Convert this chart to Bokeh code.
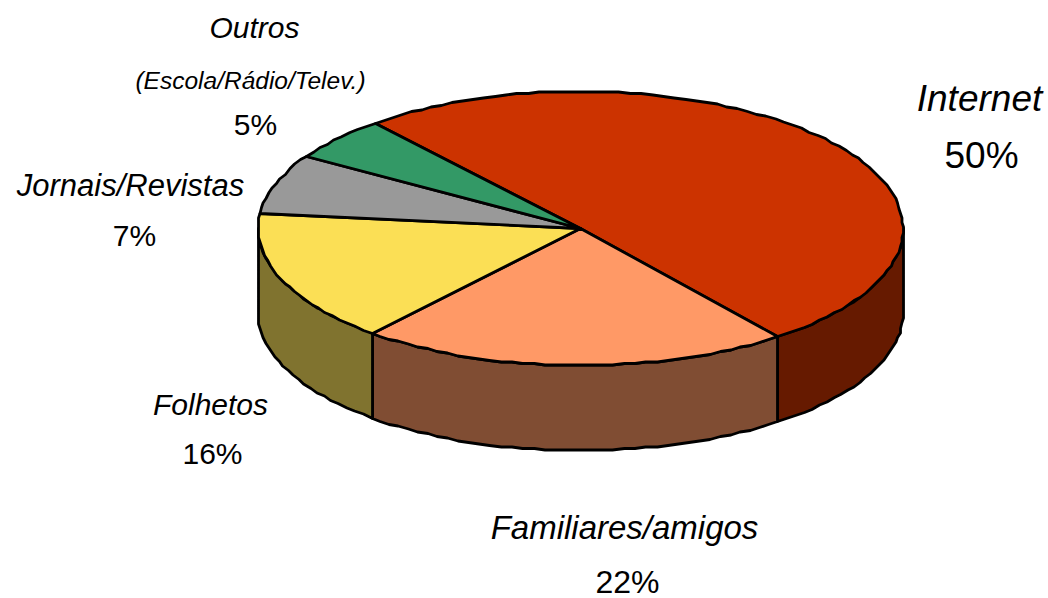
import numpy as np
from bokeh.plotting import figure
from bokeh.models import Range1d
from bokeh.core.properties import value
from bokeh.embed import file_html
from bokeh.resources import INLINE

# --- data ---
categories = ["Internet", "Familiares/amigos", "Folhetos", "Jornais/Revistas", "Outros"]
shares = [50.5, 21.7, 15.6, 7.1, 5.1]  # slice sizes as drawn in the picture
share_labels = ["50%", "22%", "16%", "7%", "5%"]
top_colors = ["#CC3300", "#FF9966", "#FBDF55", "#999999", "#339966"]
side_colors = ["#661A00", "#804D33", "#80732F", "#4D4D4D", "#1A4D33"]

# --- layout (page pixels) ---
CX, CY, RX, RY, DEPTH = 580.0, 228.0, 322.5, 137.0, 85.0
START = -129.6  # degrees, clockwise on screen
LW = 2.8
GRID = 1.5  # the reference's outline is slightly quantised
W, H = 1048, 598

p = figure(width=W, height=H, output_backend="svg", toolbar_location=None,
           x_range=Range1d(0, W), y_range=Range1d(H, 0), min_border=0,
           outline_line_color=None, background_fill_color="white")
p.axis.visible = False
p.grid.visible = False


def arc(a0, a1, dy=0.0):
    n = max(2, int(abs(a1 - a0) / 2.0) + 1)
    t = np.radians(np.linspace(a0, a1, n))
    x = np.round((CX + RX * np.cos(t)) / GRID) * GRID
    y = np.round((CY + RY * np.sin(t)) / GRID) * GRID + dy
    return x, y


edges = START + np.concatenate([[0], np.cumsum(shares)]) * 3.6
# side faces: only what lies in the front half (0..180 degrees on screen)
for i in range(len(shares)):
    for k in (0, 360):
        a0, a1 = max(edges[i] + k, 0), min(edges[i + 1] + k, 180)
        if a1 > a0:
            x0, y0 = arc(a0, a1)
            x1, y1 = arc(a1, a0, DEPTH)
            p.patch(np.r_[x0, x1], np.r_[y0, y1], fill_color=side_colors[i],
                    line_color="black", line_width=LW, line_join="round")
# top slices
for i in range(len(shares)):
    x, y = arc(edges[i], edges[i + 1])
    p.patch(np.r_[CX, x], np.r_[CY, y], fill_color=top_colors[i],
            line_color="black", line_width=LW, line_join="round")


def label(x, y, s, size, italic=True):
    p.text([x], [y], text=[s], text_font=value("Liberation Sans"),
           text_font_size=value(f"{size}px"), text_font_style="italic" if italic else "normal",
           text_align="center", text_baseline="middle", text_color="black")


label(979, 98, categories[0], 37)
label(981, 155, share_labels[0], 37, False)
label(624, 527, categories[1], 33)
label(627, 581, share_labels[1], 32, False)
label(210, 404, categories[2], 30)
label(212, 453, share_labels[2], 30, False)
label(130, 185, categories[3], 31)
label(134, 235, share_labels[3], 30, False)
label(254, 27, categories[4], 30)
label(250, 80, "(Escola/Rádio/Telev.)", 24.5)
label(255, 124, share_labels[4], 30, False)

open("out.html", "w").write(file_html(p, INLINE))
